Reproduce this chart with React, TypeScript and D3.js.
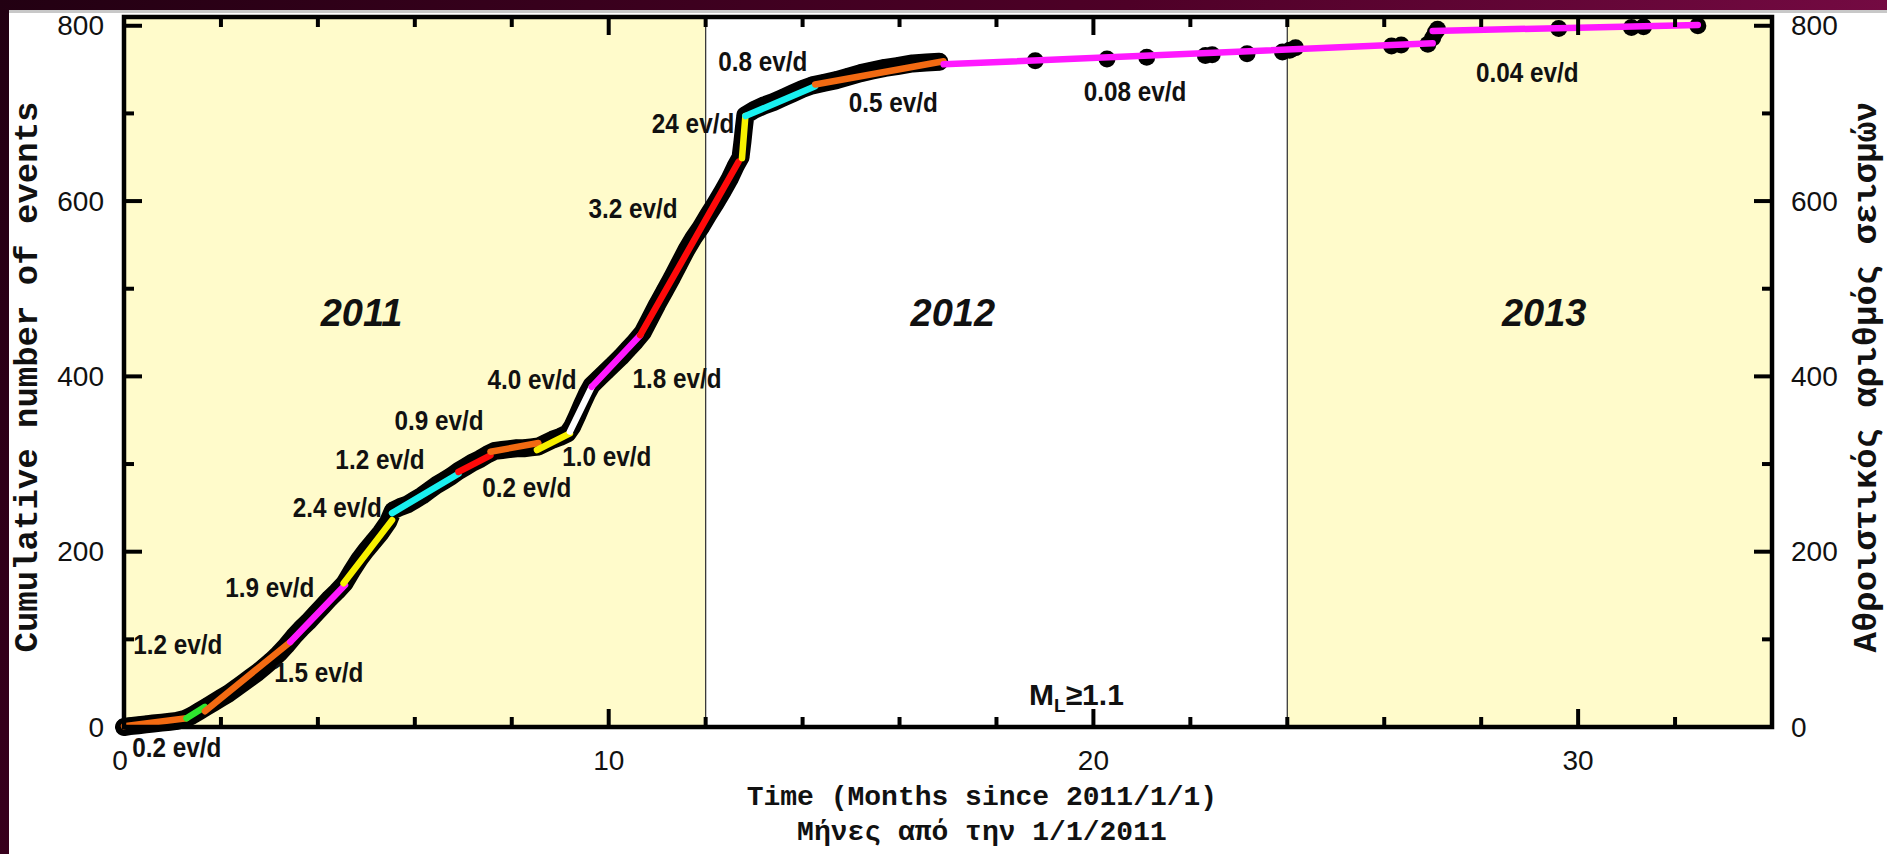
import React, { useEffect, useRef } from 'react';
import * as d3 from 'd3';

// cumulative number of events, [months since 2011/1/1, count], read along the black band
const burstEvents: [number, number][] = [
  [0.0, 0], [0.12, 1], [0.3, 2], [0.45, 3], [0.6, 4], [0.78, 5], [0.95, 6], [1.1, 7], [1.25, 9],
  [1.4, 13], [1.55, 18], [1.7, 23], [1.85, 28], [2.0, 33], [2.15, 38], [2.3, 44], [2.45, 50],
  [2.6, 56], [2.75, 62], [2.9, 69], [3.05, 76], [3.2, 84], [3.35, 93], [3.5, 103], [3.65, 112],
  [3.8, 120], [3.95, 129], [4.1, 138], [4.25, 147], [4.4, 155], [4.55, 164], [4.7, 178],
  [4.85, 191], [5.0, 202], [5.15, 212], [5.3, 222], [5.45, 234], [5.55, 247], [5.7, 251],
  [5.85, 254], [6.0, 259], [6.15, 264], [6.3, 270], [6.45, 276], [6.6, 281], [6.75, 286],
  [6.9, 292], [7.05, 297], [7.2, 302], [7.35, 306], [7.5, 311], [7.65, 315], [7.8, 316],
  [7.95, 317], [8.1, 318], [8.25, 318], [8.4, 319], [8.55, 320], [8.7, 324], [8.85, 328],
  [9.0, 331], [9.15, 335], [9.25, 343], [9.35, 355], [9.45, 368], [9.55, 380], [9.65, 390],
  [9.8, 398], [9.95, 406], [10.1, 414], [10.25, 422], [10.4, 431], [10.55, 440], [10.7, 450],
  [10.85, 466], [11.0, 482], [11.15, 497], [11.3, 512], [11.45, 528], [11.6, 544], [11.75, 558],
  [11.9, 570], [12.05, 584], [12.2, 597], [12.35, 611], [12.5, 626], [12.62, 640], [12.72, 650],
  [12.76, 668], [12.79, 684], [12.82, 698], [13.0, 704], [13.2, 709], [13.4, 713], [13.6, 718],
  [13.8, 723], [14.0, 728], [14.2, 732], [14.45, 735], [14.7, 738], [14.95, 742], [15.2, 746],
  [15.44, 749], [15.7, 752], [15.95, 754], [16.27, 757], [16.55, 758], [16.82, 759],
];

const lateEvents: [number, number][] = [
  [18.8, 760], [20.28, 762], [21.1, 764], [22.31, 766], [22.45, 767], [23.17, 768],
  [23.9, 770], [24.05, 772], [24.17, 775], [26.15, 777], [26.35, 778], [26.9, 779],
  [27.0, 786], [27.05, 792], [27.1, 796], [29.6, 797], [31.1, 798], [31.35, 799], [32.47, 800],
];

// fitted rate segments
const fitFrom: [number, number][] = [
  [0, 1], [1.29, 10], [1.67, 18], [3.43, 97], [4.53, 164], [5.53, 244], [6.9, 291], [7.56, 314],
  [8.52, 316], [9.2, 337], [9.65, 388], [10.65, 447], [12.75, 649], [12.82, 697], [14.26, 733],
  [16.91, 756], [27.0, 794],
];
const fitTo: [number, number][] = [
  [1.29, 10], [1.67, 23], [3.43, 97], [4.56, 162], [5.53, 236], [6.9, 289], [7.56, 310], [8.55, 324],
  [9.2, 335], [9.65, 388], [10.65, 447], [12.68, 645], [12.82, 697], [14.26, 731], [16.91, 759.5],
  [27.0, 780], [32.47, 801],
];
const fitRates = [
  '0.2 ev/d', '1.2 ev/d', '1.5 ev/d', '1.9 ev/d', '2.4 ev/d', '1.2 ev/d', '0.9 ev/d', '0.2 ev/d',
  '1.0 ev/d', '4.0 ev/d', '1.8 ev/d', '3.2 ev/d', '24 ev/d', '0.8 ev/d', '0.5 ev/d', '0.08 ev/d',
  '0.04 ev/d',
];
const fitLabelAt: [number, number][] = [
  [1.09, -24], [1.11, 94], [4.02, 62], [3.01, 159], [4.4, 250], [5.28, 305], [6.5, 350], [8.31, 273],
  [9.96, 308], [8.42, 396], [11.41, 398], [10.5, 592], [11.74, 689], [13.18, 759], [15.87, 712],
  [20.86, 725], [28.95, 747],
];

const years = ['2011', '2012', '2013'];
const yearStart = [0, 12, 24];
const yearEnd = [12, 24, 34];
const yearLabelAt: [number, number][] = [[4.9, 458], [17.1, 458], [29.3, 458]];

const xTickLabels = [0, 10, 20, 30];
const yTickLabels = [0, 200, 400, 600, 800];
const xMinorStep = 2;
const yMinorStep = 100;

const segColors = [
  '#f26a12', '#2ee62e', '#f26a12', '#ff19ff', '#f7f000', '#19f0f0', '#ff0a0a', '#f26a12',
  '#f7f000', '#ffffff', '#ff19ff', '#ff0a0a', '#f7f000', '#19f0f0', '#f26a12', '#ff19ff', '#ff19ff',
];

const W = 1887;
const H = 854;
const SANS = '"Liberation Sans", Arial, sans-serif';
const MONO = '"Liberation Mono", "Courier New", monospace';

export default function App() {
  const svgRef = useRef<SVGSVGElement>(null);

  useEffect(() => {
    if (!svgRef.current) return;
    const svg = d3.select(svgRef.current).html('');

    const left = 124, right = 1772, top = 17, bottom = 727;
    const x = d3.scaleLinear().domain([0, 34]).range([left, right]);
    const y = d3.scaleLinear().domain([0, 810]).range([bottom, top]);

    // slide frame
    const defs = svg.append('defs');
    const grad = defs.append('linearGradient').attr('id', 'slide')
      .attr('x1', 0).attr('y1', 0).attr('x2', 1).attr('y2', 0.3);
    grad.append('stop').attr('offset', '0%').attr('stop-color', '#220012');
    grad.append('stop').attr('offset', '55%').attr('stop-color', '#4e0027');
    grad.append('stop').attr('offset', '100%').attr('stop-color', '#7c0c48');
    svg.append('rect').attr('width', W).attr('height', H).attr('fill', 'url(#slide)');
    svg.append('rect').attr('x', 9).attr('y', 10).attr('width', W - 9).attr('height', H - 10).attr('fill', '#fff');
    svg.append('line').attr('x1', 9).attr('x2', W).attr('y1', 11.5).attr('y2', 11.5)
      .attr('stroke', '#c8c8c8').attr('stroke-width', 3);

    // year bands
    years.forEach((yr, i) => {
      if (i !== 1) {
        svg.append('rect')
          .attr('x', x(yearStart[i])).attr('y', top)
          .attr('width', x(yearEnd[i]) - x(yearStart[i])).attr('height', bottom - top)
          .attr('fill', '#fffbcb');
      }
    });
    [12, 24].forEach(m => {
      svg.append('line')
        .attr('x1', x(m)).attr('x2', x(m)).attr('y1', top).attr('y2', bottom)
        .attr('stroke', '#3a3a3a').attr('stroke-width', 1.3);
    });
    years.forEach((yr, i) => {
      svg.append('text')
        .attr('x', x(yearLabelAt[i][0])).attr('y', y(yearLabelAt[i][1]))
        .attr('text-anchor', 'middle')
        .attr('font-family', SANS).attr('font-size', 38)
        .attr('font-weight', 'bold').attr('font-style', 'italic')
        .attr('fill', '#111')
        .text(yr);
    });

    // black band of events
    const line = d3.line<[number, number]>().x(d => x(d[0])).y(d => y(d[1]));
    svg.append('path')
      .attr('d', line(burstEvents))
      .attr('fill', 'none').attr('stroke', '#000')
      .attr('stroke-width', 18).attr('stroke-linejoin', 'round').attr('stroke-linecap', 'round');
    svg.selectAll('.ev')
      .data([...burstEvents, ...lateEvents])
      .enter().append('circle')
      .attr('class', 'ev')
      .attr('cx', d => x(d[0])).attr('cy', d => y(d[1]))
      .attr('r', 8.5).attr('fill', '#000');

    // fitted segments
    fitFrom.forEach((p, i) => {
      svg.append('line')
        .attr('x1', x(p[0])).attr('y1', y(p[1]))
        .attr('x2', x(fitTo[i][0])).attr('y2', y(fitTo[i][1]))
        .attr('stroke', segColors[i]).attr('stroke-width', 6.5).attr('stroke-linecap', 'round');
    });

    // rate labels
    fitRates.forEach((t, i) => {
      svg.append('text')
        .attr('transform', `translate(${x(fitLabelAt[i][0])},${y(fitLabelAt[i][1])}) scale(0.9,1)`)
        .attr('text-anchor', 'middle').attr('dominant-baseline', 'central')
        .attr('font-family', SANS).attr('font-size', 27).attr('font-weight', 'bold')
        .attr('fill', '#111')
        .text(t);
    });

    // frame and ticks
    svg.append('rect')
      .attr('x', left).attr('y', top).attr('width', right - left).attr('height', bottom - top)
      .attr('fill', 'none').attr('stroke', '#000').attr('stroke-width', 4.5);

    const ticks = svg.append('g').attr('stroke', '#000').attr('stroke-width', 4);
    d3.range(0, 34, xMinorStep).forEach(m => {
      const len = xTickLabels.includes(m) ? 18 : 10;
      ticks.append('line').attr('x1', x(m)).attr('x2', x(m)).attr('y1', bottom).attr('y2', bottom - len);
      ticks.append('line').attr('x1', x(m)).attr('x2', x(m)).attr('y1', top).attr('y2', top + len);
    });
    d3.range(0, 801, yMinorStep).forEach(v => {
      const len = yTickLabels.includes(v) ? 18 : 10;
      ticks.append('line').attr('x1', left).attr('x2', left + len).attr('y1', y(v)).attr('y2', y(v));
      ticks.append('line').attr('x1', right).attr('x2', right - len).attr('y1', y(v)).attr('y2', y(v));
    });

    xTickLabels.forEach(m => {
      svg.append('text')
        .attr('x', x(m) - (m === 0 ? 4 : 0)).attr('y', bottom + 43)
        .attr('text-anchor', 'middle')
        .attr('font-family', SANS).attr('font-size', 28).attr('fill', '#111')
        .text(m);
    });
    yTickLabels.forEach(v => {
      svg.append('text')
        .attr('x', left - 20).attr('y', y(v))
        .attr('text-anchor', 'end').attr('dominant-baseline', 'central')
        .attr('font-family', SANS).attr('font-size', 28).attr('fill', '#111')
        .text(v);
      svg.append('text')
        .attr('x', right + 19).attr('y', y(v))
        .attr('text-anchor', 'start').attr('dominant-baseline', 'central')
        .attr('font-family', SANS).attr('font-size', 28).attr('fill', '#111')
        .text(v);
    });

    // axis titles
    svg.append('text')
      .attr('transform', `translate(28,${(top + bottom) / 2 + 5}) rotate(-90)`)
      .attr('text-anchor', 'middle').attr('dominant-baseline', 'central')
      .attr('font-family', MONO).attr('font-size', 34).attr('font-weight', 'bold').attr('fill', '#111')
      .text('Cumulative number of events');
    svg.append('text')
      .attr('transform', `translate(1867,${(top + bottom) / 2 + 5}) rotate(-90)`)
      .attr('text-anchor', 'middle').attr('dominant-baseline', 'central')
      .attr('font-family', MONO).attr('font-size', 34).attr('font-weight', 'bold').attr('fill', '#111')
      .text('Αθροιστικός αριθμός σεισμών');
    const titleX = x(17.7);
    svg.append('text')
      .attr('x', titleX).attr('y', 805)
      .attr('text-anchor', 'middle')
      .attr('font-family', MONO).attr('font-size', 28).attr('font-weight', 'bold').attr('fill', '#111')
      .text('Time (Months since 2011/1/1)');
    svg.append('text')
      .attr('x', titleX).attr('y', 840)
      .attr('text-anchor', 'middle')
      .attr('font-family', MONO).attr('font-size', 28).attr('font-weight', 'bold').attr('fill', '#111')
      .text('Μήνες από την 1/1/2011');

    // magnitude threshold
    const ml = svg.append('text')
      .attr('x', x(19.65)).attr('y', y(25))
      .attr('text-anchor', 'middle')
      .attr('font-family', SANS).attr('font-size', 30).attr('font-weight', 'bold').attr('fill', '#111');
    ml.append('tspan').text('M');
    ml.append('tspan').attr('dy', 7).attr('font-size', 19).text('L');
    ml.append('tspan').attr('dy', -7).text('≥1.1');
  }, []);

  return (
    <svg
      ref={svgRef}
      width={W}
      height={H}
      viewBox={`0 0 ${W} ${H}`}
      style={{ position: 'absolute', left: 0, top: 0, display: 'block' }}
    />
  );
}
